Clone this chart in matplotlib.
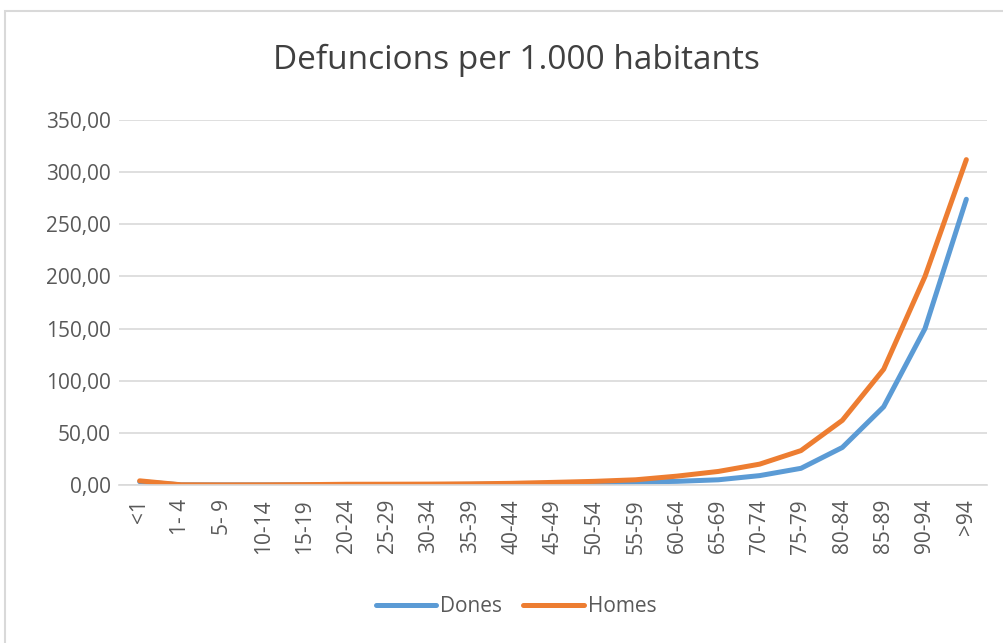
import matplotlib
matplotlib.use('Agg')
import matplotlib.pyplot as plt
from matplotlib.patches import Rectangle
from matplotlib.ticker import FuncFormatter

# age groups and rates per 1.000 inhabitants
edats = ['<1', '1- 4', '5- 9', '10-14', '15-19', '20-24', '25-29', '30-34',
         '35-39', '40-44', '45-49', '50-54', '55-59', '60-64', '65-69',
         '70-74', '75-79', '80-84', '85-89', '90-94', '>94']
dones = [3.2, 0.15, 0.1, 0.1, 0.15, 0.25, 0.3, 0.4, 0.6, 0.9, 1.5, 2.0,
         2.8, 3.5, 5.0, 9.0, 16.0, 36.0, 75.0, 150.0, 274.0]
homes = [4.0, 0.2, 0.1, 0.15, 0.35, 0.7, 0.75, 0.85, 1.1, 1.6, 2.5, 3.5,
         5.0, 8.5, 13.0, 20.0, 33.0, 62.0, 111.0, 200.0, 312.0]

plt.rcParams['font.family'] = ['Open Sans', 'DejaVu Sans']

fig = plt.figure(figsize=(10.04, 6.43), dpi=100)
fig.patches.append(Rectangle((5 / 1004, -0.1), 1.2, 1 - 11 / 643 + 0.1,
                             transform=fig.transFigure, fill=False,
                             edgecolor='#d9d9d9', linewidth=1.5))

ax = fig.add_axes([119 / 1004, 1 - 485 / 643, 868 / 1004, 365 / 643])
x = list(range(len(edats)))
ax.plot(x, dones, color='#5B9BD5', lw=3.6, label='Dones', solid_capstyle='round')
ax.plot(x, homes, color='#ED7D31', lw=3.6, label='Homes', solid_capstyle='round')

ax.set_xlim(-0.5, len(edats) - 0.5)
ax.set_ylim(0, 350)
ax.set_yticks(range(0, 351, 50))
ax.yaxis.set_major_formatter(FuncFormatter(lambda v, p: f'{v:.2f}'.replace('.', ',')))
ax.set_xticks(x)
ax.set_xticklabels(edats, rotation=90)
ax.tick_params(axis='both', length=0, labelsize=15, labelcolor='#595959')
ax.tick_params(axis='x', pad=10)
ax.tick_params(axis='y', pad=6)
ax.grid(axis='y', color='#d9d9d9', lw=1.2)
ax.set_axisbelow(True)
for s in ['top', 'right', 'left']:
    ax.spines[s].set_visible(False)
ax.spines['bottom'].set_color('#d9d9d9')
ax.spines['bottom'].set_linewidth(1.2)

fig.text(0.514, 1 - 60 / 643, 'Defuncions per 1.000 habitants', ha='center',
         va='center', fontsize=24, color='#404040')

fig.legend(loc='center', bbox_to_anchor=(0.514, 1 - 607 / 643), ncol=2,
           frameon=False, fontsize=15, handlelength=2.9, columnspacing=1.0,
           handletextpad=0.2, labelcolor='#595959')

fig.savefig('out.png', dpi=100, facecolor='white')
